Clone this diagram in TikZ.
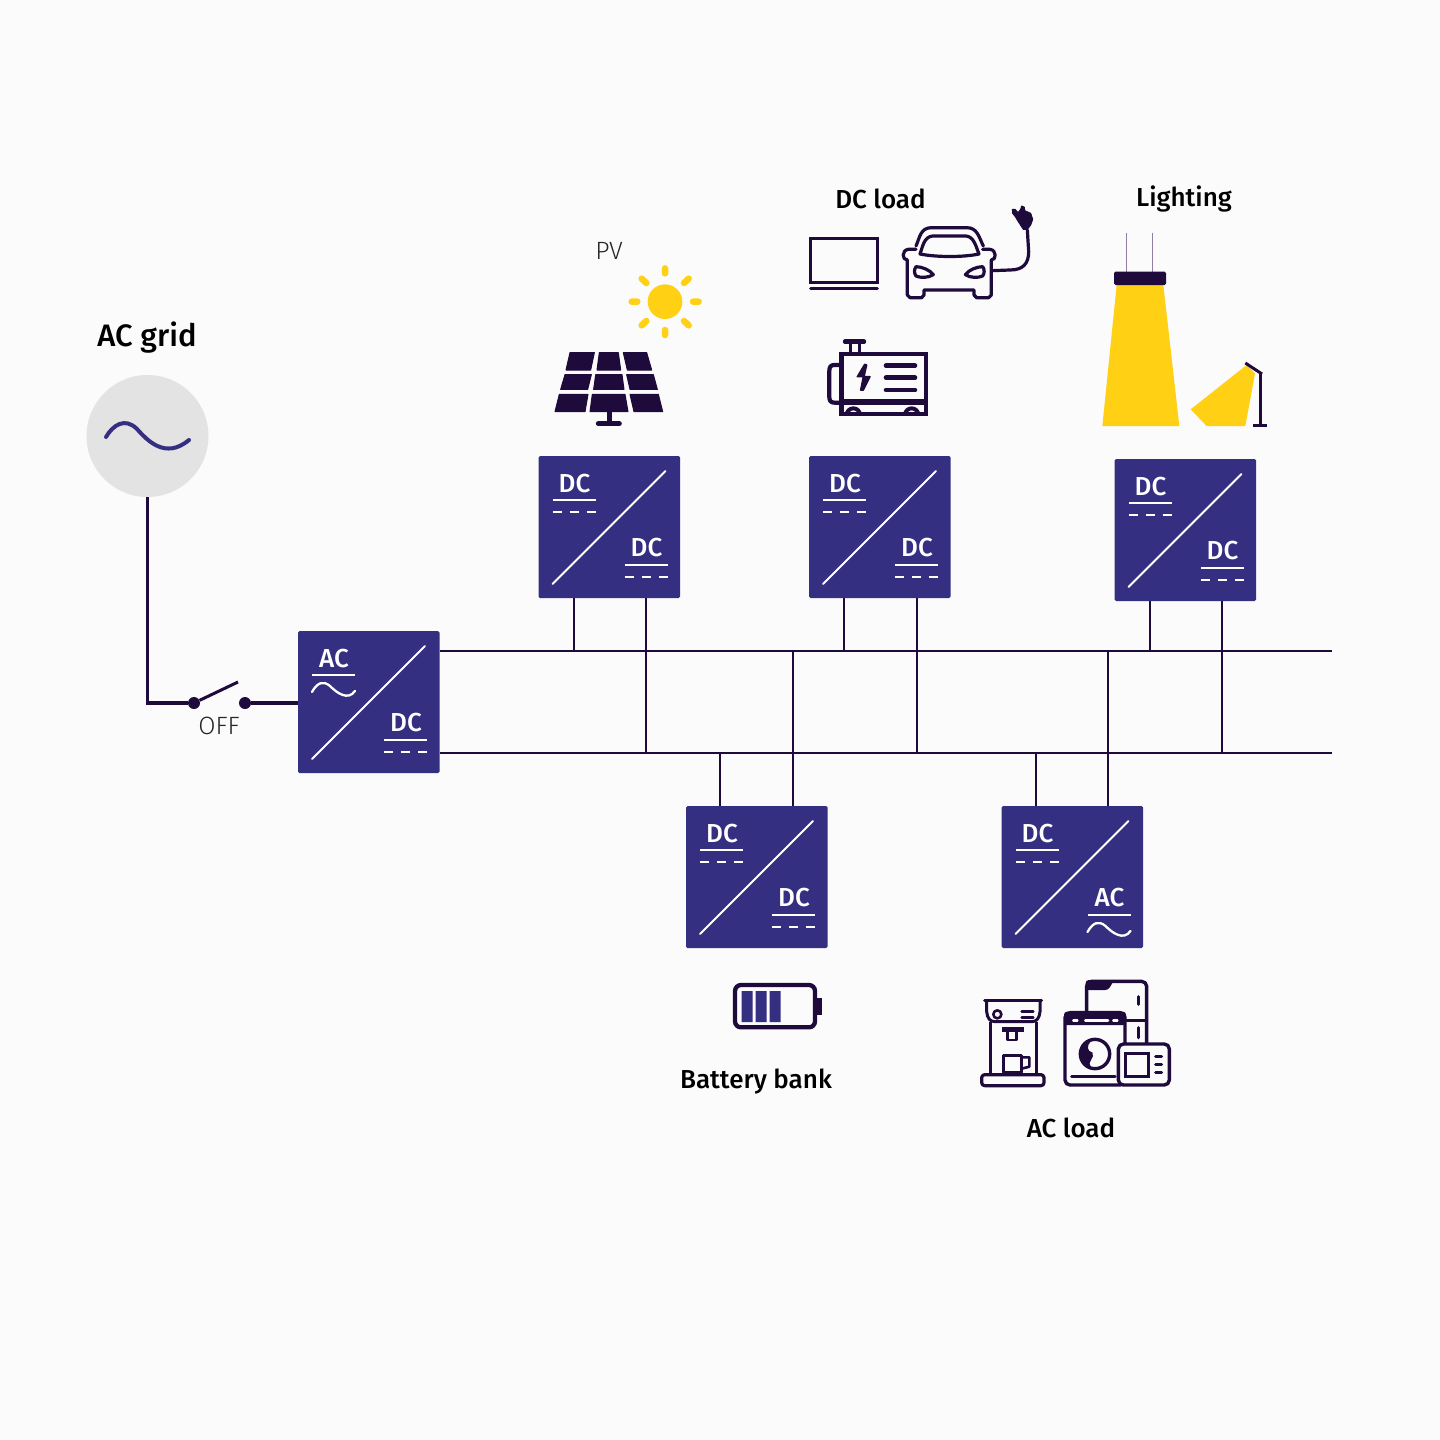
\documentclass[tikz,border=0pt]{standalone}
\usepackage{fontspec}
\setmainfont{Fira Sans}
\newfontfamily\medf{Fira Sans Medium}
\newfontfamily\lightf{Fira Sans Light}
\definecolor{bgc}{HTML}{FBFBFB}
\definecolor{boxc}{HTML}{352F82}
\definecolor{ink}{HTML}{1F0A3C}
\definecolor{sunc}{HTML}{FFD013}
\definecolor{disc}{HTML}{E3E3E3}
\definecolor{wirec}{HTML}{8F7FA3}
\tikzset{
  conv/.style={draw=none,fill=boxc,rounded corners=1.5pt,minimum width=141.5pt,minimum height=142pt,inner sep=0,outer sep=0,anchor=north west},
  convtxt/.style={text=white,font=\medf\fontsize{26}{26}\selectfont,inner sep=0},
  wl/.style={draw=white,line width=2pt},
  bus/.style={draw=ink,line width=2.4pt},
  tap/.style={draw=ink,line width=2pt},
  feed/.style={draw=ink,line width=3.6pt},
  boldlab/.style={text=black,font=\medf\fontsize{26}{28}\selectfont,inner sep=0},
  thinlab/.style={text=black!85,font=\lightf\fontsize{25}{27}\selectfont,inner sep=0},
  icon/.style={draw=ink,line width=3.2pt,line join=round,line cap=round},
  zoomed/.style={x=0.33333pt,y=-0.33333pt},
}
% side marks, local origin = box north-west
\newcommand\dcmark[2]{%
  \draw[wl] (#1,#2) -- +(43,0);
  \draw[wl,line width=2.8pt] (#1,#2+12) -- +(9,0) (#1+17,#2+12) -- +(9,0) (#1+34,#2+12) -- +(9,0);}
\newcommand\acmark[2]{%
  \draw[wl] (#1,#2) -- +(43,0);
  \draw[wl,line cap=round,line width=2.3pt] (#1,#2+17) .. controls (#1+5,#2+8) and (#1+11,#2+5) .. (#1+18,#2+11)
     .. controls (#1+25,#2+18) and (#1+36,#2+26) .. (#1+43,#2+16);}
% name, x, y, top-left text, bottom-right text
\newcommand\conv[5]{%
  \node[conv] (#1) at (#2,#3) {};
  \begin{scope}[shift={(#2,#3)}]
    \draw[wl,line cap=round] (14,128) -- (127,15);
    \node[convtxt] (#1tl) at (36,28) {#4};
    \node[convtxt] (#1br) at (108,92) {#5};
    \ifx#4A\relax\fi
    \csname mark#4\endcsname{14}{44}
    \csname mark#5\endcsname{86}{109}
  \end{scope}}
\expandafter\def\csname markDC\endcsname{\dcmark}
\expandafter\def\csname markAC\endcsname{\acmark}
\begin{document}
\begin{tikzpicture}[x=1pt,y=-1pt]
\useasboundingbox (0,0) rectangle (1440,1440);
\fill[bgc] (0,0) rectangle (1440,1440);

% buses first
\coordinate (busTa) at (440,651); \coordinate (busTb) at (1332,651);
\coordinate (busBa) at (440,753); \coordinate (busBb) at (1332,753);
\draw[bus] (busTa) -- (busTb);
\draw[bus] (busBa) -- (busBb);

% taps
\foreach \n/\tx/\ty/\bus in {
  pa/574/598/busTa, pb/646/598/busBa,
  da/844/598/busTa, db/917/598/busBa,
  la/1150/600/busTa, lb/1222/600/busBa,
  ba/720/806/busBa, bb/793/806/busTa,
  aa/1036/806/busBa, ab/1108/806/busTa}{
  \coordinate (\n) at (\tx,\ty);
  \draw[tap] (\n) -- (\n |- \bus);
}

% converters
\conv{main}{298}{631}{AC}{DC}
\conv{pv}{538.5}{456}{DC}{DC}
\conv{dcl}{809}{456}{DC}{DC}
\conv{lit}{1114.5}{459}{DC}{DC}
\conv{bat}{686}{806}{DC}{DC}
\conv{acl}{1001.5}{806}{DC}{AC}

% AC grid
\node[circle,fill=disc,minimum size=122pt,inner sep=0,outer sep=0] (grid) at (147.5,436) {};
\draw[draw=boxc,line width=4pt,line cap=round] (106,437) .. controls (113,425) and (125,417) .. (137,429)
   .. controls (147,440) and (165,460) .. (189,440);
\node[circle,fill=ink,minimum size=12pt,inner sep=0] (swa) at (194,703) {};
\node[circle,fill=ink,minimum size=12pt,inner sep=0] (swb) at (245,703) {};
\coordinate (swtip) at (238,682);
\draw[feed] (grid.south) |- (swa);
\draw[feed] (swb) -- (main.west |- swb);
\draw[draw=ink,line width=3pt] (swa) -- (swtip);

% labels
\node[boldlab,font=\medf\fontsize{31}{33}\selectfont] (lgrid) at (147,338) {AC grid};
\node[thinlab] (loff) at (219,726) {OFF};
\node[thinlab] (lpv) at (609,251) {PV};
\node[boldlab] (ldc) at (880.5,199) {DC load};
\node[boldlab] (llit) at (1184,199) {Lighting};
\node[boldlab] (lbat) at (756,1082) {Battery bank};
\node[boldlab] (lacl) at (1071,1128) {AC load};

% PV and sun
\begin{scope}[shift={(530,230)},zoomed]
  \fill[sunc] (405,215) circle[radius=52];
  \draw[draw=sunc,line width=6.5pt,line cap=round]
    (405,115) -- (405,130) (405,300) -- (405,315) (305,215) -- (322,215) (489,215) -- (506,215)
    (335,146) -- (349,159) (476,146) -- (462,159) (335,286) -- (349,273) (476,286) -- (462,273);
  \fill[ink,draw=ink,line width=1pt,line join=round]
    (120,368) -- (193,368) -- (182,420) -- (108,420) -- cycle
    (208,368) -- (265,368) -- (272,420) -- (201,420) -- cycle
    (280,368) -- (350,368) -- (365,420) -- (292,420) -- cycle
    (105,434) -- (184,434) -- (173,478) -- (92,478) -- cycle
    (197,434) -- (276,434) -- (282,478) -- (191,478) -- cycle
    (290,434) -- (370,434) -- (382,478) -- (300,478) -- cycle
    (88,493) -- (174,493) -- (165,545) -- (75,545) -- cycle
    (187,493) -- (285,493) -- (294,545) -- (180,545) -- cycle
    (300,493) -- (385,493) -- (398,545) -- (312,545) -- cycle;
  \draw[draw=ink,line width=5pt] (237,545) -- (237,580);
  \draw[draw=ink,line width=5pt,line cap=round] (205,581) -- (268,581);
\end{scope}

% DC load icons
\begin{scope}[shift={(790,180)},zoomed]
  % laptop
  \draw[icon,line width=3pt,line cap=butt,line join=miter] (62,176) rectangle (262,308);
  \draw[icon,line width=3.2pt] (62,326) -- (262,326);
  % car
  \draw[icon] (378,198) .. controls (390,170) and (392,143) .. (425,143) -- (530,143)
     .. controls (562,143) and (566,170) .. (580,198);
  \draw[icon] (390,222) .. controls (398,200) and (402,170) .. (428,168) -- (528,168)
     .. controls (552,170) and (558,200) .. (567,222) .. controls (520,232) and (440,232) .. (390,222) -- cycle;
  \draw[icon] (352,240) -- (352,345) -- (360,353) -- (395,353) -- (402,345) -- (402,330) -- (552,330) -- (552,345) -- (560,353) -- (596,353) -- (604,345) -- (604,240);
  \draw[icon] (352,240) .. controls (335,240) and (335,210) .. (355,208) -- (378,208);
  \draw[icon] (604,240) .. controls (620,240) and (620,210) .. (600,208) -- (578,208);
  \draw[icon] (378,260) .. controls (395,260) and (420,270) .. (430,284) .. controls (415,294) and (390,294) .. (378,288) .. controls (372,280) and (372,268) .. (378,260) -- cycle;
  \draw[icon] (578,260) .. controls (560,260) and (536,270) .. (526,284) .. controls (540,294) and (565,294) .. (578,288) .. controls (584,280) and (584,268) .. (578,260) -- cycle;
  % cable and plug
  \draw[icon] (606,272) -- (660,270) .. controls (700,270) and (716,250) .. (716,215) -- (712,150);
  \fill[ink,draw=ink,line width=1pt,line join=round] (700,148) -- (685,125) -- (676,110) -- (668,100) -- (667,88) -- (675,88) -- (684,98) -- (692,88) -- (695,78) -- (703,82) -- (704,92) -- (722,100) -- (728,118) -- (722,135) -- (712,148) -- cycle;
  % generator
  \draw[icon,line width=4.6pt,line join=miter] (155,522) rectangle (408,702);
  \draw[draw=ink,line width=6pt] (155,665) -- (408,665);
  \draw[icon,line width=4.4pt] (165,485) -- (222,485);
  \draw[icon,line width=3.6pt,line join=miter,line cap=butt] (182,485) -- (182,520) (208,485) -- (208,520);
  \draw[icon,line width=4.2pt] (150,555) -- (132,555) .. controls (122,555) and (118,562) .. (118,572) -- (118,652) .. controls (118,664) and (124,668) .. (134,668) -- (150,668);
  \fill[ink,draw=ink,line width=1.5pt,line join=round] (224,553) -- (202,590) -- (220,590) -- (212,630) -- (220,630) -- (240,590) -- (222,590) -- (230,555) -- cycle;
  \draw[icon,line width=4.6pt] (288,557) -- (375,557) (288,593) -- (375,593) (288,630) -- (375,630);
  \draw[icon,line width=4pt,line cap=butt] (170,705) arc[start angle=180,end angle=360,radius=20];
  \draw[icon,line width=4pt,line cap=butt] (345,705) arc[start angle=180,end angle=360,radius=20];
\end{scope}

% lighting
\begin{scope}[shift={(1090,180)},zoomed]
  \draw[draw=wirec,line width=1.3pt] (110,158) -- (110,276) (188,158) -- (188,276);
  \fill[sunc] (80,315) -- (220,315) -- (268,738) -- (37,738) -- cycle;
  \fill[ink,rounded corners=1.5pt] (72,275) rectangle (228,315);
  \fill[sunc] (470,555) -- (495,580) -- (466,738) -- (350,738) -- (302,688) -- cycle;
  \draw[draw=ink,line width=3pt] (466,549) -- (516,582);
  \draw[draw=ink,line width=3.3pt] (512,580) -- (512,735);
  \draw[draw=ink,line width=3pt] (490,735) -- (530,735);
\end{scope}

% battery
\begin{scope}[shift={(720,970)},zoomed]
  \draw[draw=ink,line width=4.3pt,rounded corners=6pt] (45,45) rectangle (285,172);
  \fill[ink] (288,85) rectangle (305,135);
  \fill[boxc] (65,63) rectangle (98,156) (107,63) rectangle (140,156) (149,63) rectangle (182,156);
\end{scope}

% AC load icons
\begin{scope}[shift={(970,970)},zoomed]
  % coffee machine
  \draw[icon,line width=3pt] (44,92) -- (215,92);
  \draw[icon,line width=3pt] (50,92) -- (50,125) .. controls (52,145) and (60,155) .. (75,155) -- (185,155) .. controls (200,155) and (208,145) .. (210,125) -- (210,92);
  \draw[icon,line width=2.6pt] (82,133) circle[radius=12];
  \draw[icon,line width=2.4pt] (155,125) -- (190,125) (155,143) -- (190,143);
  \draw[icon,line width=3pt,line cap=butt] (60,155) -- (60,312) (200,155) -- (200,312);
  \fill[ink] (95,172) rectangle (162,186);
  \draw[icon,line width=2.6pt,line cap=butt] (112,186) -- (112,210) -- (140,210) -- (140,186);
  \draw[icon,line width=3pt] (100,255) rectangle (155,308);
  \draw[icon,line width=2.6pt] (155,262) -- (178,262) -- (178,290) -- (155,296);
  \draw[icon,line width=3.2pt,rounded corners=3pt] (35,314) rectangle (222,347);
  % fridge
  \draw[icon,line width=3.4pt,rounded corners=5pt] (350,122) -- (350,34) -- (530,34) -- (530,220);
  \fill[ink,rounded corners=3pt] (347,30) -- (432,30) -- (415,60) -- (347,60) -- cycle;
  \draw[icon,line width=3pt] (470,152) -- (530,152);
  \draw[icon,line width=3.3pt] (506,80) -- (506,103) (506,173) -- (506,203);
  % washer
  \draw[icon,line width=3.4pt,rounded corners=5pt] (285,128) rectangle (465,345);
  \fill[ink,rounded corners=3pt] (282,125) rectangle (468,165);
  \draw[draw=white,line width=2.6pt,line cap=round] (310,152) -- (322,152) (346,152) -- (414,152) (430,152) -- (442,152);
  \draw[icon,line width=3.4pt] (375,252) circle[radius=44];
  \fill[ink] (362,215) .. controls (325,225) and (325,280) .. (362,290) .. controls (350,275) and (375,265) .. (368,248) .. controls (350,245) and (350,225) .. (362,215) -- cycle;
  \draw[icon,line width=3pt] (305,318) -- (435,318);
  % microwave
  \draw[icon,fill=bgc,line width=3.4pt,rounded corners=5pt] (445,222) rectangle (598,345);
  \draw[icon,line width=3.2pt,line join=miter] (466,250) rectangle (535,320);
  \draw[icon,line width=3pt] (557,258) -- (575,258) (557,282) -- (575,282) (557,306) -- (575,306);
\end{scope}
\end{tikzpicture}
\end{document}
